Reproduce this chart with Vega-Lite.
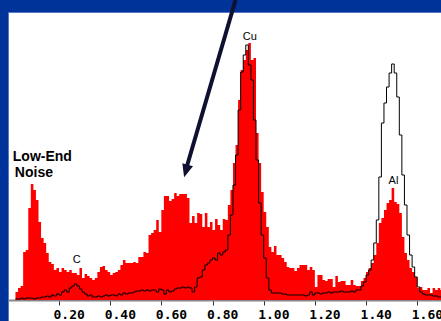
{
  "$schema": "https://vega.github.io/schema/vega-lite/v6.json",
  "width": 433,
  "height": 309,
  "autosize": {"type": "none"},
  "padding": {"left": 8, "top": 12, "right": 0, "bottom": 0},
  "background": "#003399",
  "config": {"view": {"fill": "#ffffff", "stroke": "#5577cc", "strokeWidth": 1}},
  "datasets": {
    "spec": [
      {"e":0.03,"r":8,"k":1},{"e":0.04,"r":12,"k":1},{"e":0.05,"r":14,"k":2},{"e":0.06,"r":48,"k":1},
      {"e":0.07,"r":50,"k":2},{"e":0.08,"r":92,"k":2},{"e":0.09,"r":116,"k":2},{"e":0.10,"r":110,"k":1},
      {"e":0.11,"r":100,"k":2},{"e":0.12,"r":78,"k":2},{"e":0.13,"r":62,"k":3},{"e":0.14,"r":57,"k":3},
      {"e":0.15,"r":47,"k":4},{"e":0.16,"r":38,"k":3},{"e":0.17,"r":36,"k":5},{"e":0.18,"r":30,"k":4},
      {"e":0.19,"r":32,"k":6},{"e":0.20,"r":28,"k":5},{"e":0.21,"r":32,"k":8},{"e":0.22,"r":30,"k":10},
      {"e":0.23,"r":28,"k":8},{"e":0.24,"r":30,"k":12},{"e":0.25,"r":27,"k":14},{"e":0.26,"r":27,"k":16},
      {"e":0.27,"r":25,"k":14},{"e":0.28,"r":32,"k":11},{"e":0.29,"r":22,"k":8},{"e":0.30,"r":26,"k":6},
      {"e":0.31,"r":24,"k":4},{"e":0.32,"r":22,"k":5},{"e":0.33,"r":20,"k":3},{"e":0.34,"r":22,"k":3},
      {"e":0.35,"r":28,"k":4},{"e":0.36,"r":33,"k":3},{"e":0.37,"r":34,"k":4},{"e":0.38,"r":30,"k":5},
      {"e":0.39,"r":28,"k":4},{"e":0.40,"r":25,"k":5},{"e":0.41,"r":27,"k":5},{"e":0.42,"r":28,"k":4},
      {"e":0.43,"r":30,"k":6},{"e":0.44,"r":35,"k":5},{"e":0.45,"r":40,"k":7},{"e":0.46,"r":37,"k":6},
      {"e":0.47,"r":37,"k":7},{"e":0.48,"r":37,"k":7},{"e":0.49,"r":38,"k":8},{"e":0.50,"r":37,"k":9},
      {"e":0.51,"r":43,"k":9},{"e":0.52,"r":43,"k":10},{"e":0.53,"r":48,"k":9},{"e":0.54,"r":47,"k":10},
      {"e":0.55,"r":65,"k":9},{"e":0.56,"r":67,"k":10},{"e":0.57,"r":70,"k":10},{"e":0.58,"r":80,"k":8},
      {"e":0.59,"r":68,"k":11},{"e":0.60,"r":90,"k":10},{"e":0.61,"r":104,"k":6},{"e":0.62,"r":104,"k":10},
      {"e":0.63,"r":99,"k":8},{"e":0.64,"r":101,"k":9},{"e":0.65,"r":107,"k":11},{"e":0.66,"r":104,"k":12},
      {"e":0.67,"r":106,"k":12},{"e":0.68,"r":106,"k":13},{"e":0.69,"r":106,"k":12},{"e":0.70,"r":102,"k":13},
      {"e":0.71,"r":77,"k":12},{"e":0.72,"r":84,"k":8},{"e":0.73,"r":77,"k":13},{"e":0.74,"r":87,"k":22},
      {"e":0.75,"r":86,"k":23},{"e":0.76,"r":73,"k":30},{"e":0.77,"r":87,"k":35},{"e":0.78,"r":73,"k":37},
      {"e":0.79,"r":78,"k":40},{"e":0.80,"r":70,"k":42},{"e":0.81,"r":81,"k":40},{"e":0.82,"r":75,"k":47},
      {"e":0.83,"r":70,"k":45},{"e":0.84,"r":81,"k":48},{"e":0.85,"r":80,"k":50},{"e":0.86,"r":95,"k":65},
      {"e":0.87,"r":110,"k":85},{"e":0.88,"r":137,"k":115},{"e":0.89,"r":155,"k":145},{"e":0.90,"r":200,"k":190},
      {"e":0.91,"r":230,"k":228},{"e":0.92,"r":240,"k":245},{"e":0.93,"r":250,"k":255},{"e":0.94,"r":257,"k":235},
      {"e":0.95,"r":240,"k":220},{"e":0.96,"r":242,"k":180},{"e":0.97,"r":167,"k":140},{"e":0.98,"r":137,"k":97},
      {"e":0.99,"r":108,"k":65},{"e":1.00,"r":88,"k":42},{"e":1.01,"r":73,"k":22},{"e":1.02,"r":53,"k":10},
      {"e":1.03,"r":48,"k":7},{"e":1.04,"r":54,"k":7},{"e":1.05,"r":45,"k":7},{"e":1.06,"r":45,"k":7},
      {"e":1.07,"r":42,"k":6},{"e":1.08,"r":38,"k":6},{"e":1.09,"r":33,"k":5},{"e":1.10,"r":32,"k":5},
      {"e":1.11,"r":32,"k":5},{"e":1.12,"r":29,"k":5},{"e":1.13,"r":32,"k":5},{"e":1.14,"r":35,"k":5},
      {"e":1.15,"r":35,"k":5},{"e":1.16,"r":35,"k":4},{"e":1.17,"r":30,"k":5},{"e":1.18,"r":33,"k":8},
      {"e":1.19,"r":30,"k":5},{"e":1.20,"r":13,"k":7},{"e":1.21,"r":25,"k":7},{"e":1.22,"r":25,"k":6},
      {"e":1.23,"r":20,"k":7},{"e":1.24,"r":19,"k":7},{"e":1.25,"r":21,"k":8},{"e":1.26,"r":21,"k":7},
      {"e":1.27,"r":13,"k":8},{"e":1.28,"r":24,"k":8},{"e":1.29,"r":18,"k":8},{"e":1.30,"r":19,"k":9},
      {"e":1.31,"r":19,"k":8},{"e":1.32,"r":15,"k":8},{"e":1.33,"r":15,"k":8},{"e":1.34,"r":20,"k":9},
      {"e":1.35,"r":15,"k":8},{"e":1.36,"r":14,"k":10},{"e":1.37,"r":14,"k":10},{"e":1.38,"r":19,"k":14},
      {"e":1.39,"r":22,"k":18},{"e":1.40,"r":28,"k":25},{"e":1.41,"r":32,"k":30},{"e":1.42,"r":37,"k":40},
      {"e":1.43,"r":45,"k":57},{"e":1.44,"r":57,"k":80},{"e":1.45,"r":77,"k":123},{"e":1.46,"r":82,"k":177},
      {"e":1.47,"r":90,"k":197},{"e":1.48,"r":97,"k":213},{"e":1.49,"r":100,"k":227},{"e":1.50,"r":112,"k":236},
      {"e":1.51,"r":98,"k":227},{"e":1.52,"r":96,"k":203},{"e":1.53,"r":87,"k":165},{"e":1.54,"r":63,"k":125},
      {"e":1.55,"r":47,"k":95},{"e":1.56,"r":40,"k":65},{"e":1.57,"r":32,"k":45},{"e":1.58,"r":28,"k":33},
      {"e":1.59,"r":23,"k":23},{"e":1.60,"r":12,"k":13},{"e":1.61,"r":13,"k":8},{"e":1.62,"r":10,"k":6},
      {"e":1.63,"r":10,"k":5},{"e":1.64,"r":12,"k":5},{"e":1.65,"r":7,"k":5},{"e":1.66,"r":12,"k":4},
      {"e":1.67,"r":10,"k":4},{"e":1.68,"r":12,"k":3},{"e":1.69,"r":10,"k":3},{"e":1.70,"r":10,"k":3}
    ],
    "big": [
      {"e":0.0196,"h":139,"t":"Low-End"},
      {"e":0.0275,"h":123,"t":"Noise"}
    ],
    "small": [
      {"e":0.269,"h":37,"t":"C"},
      {"e":0.946,"h":260,"t":"Cu"},
      {"e":1.507,"h":116,"t":"Al"}
    ],
    "shaft": [
      {"e":0.890,"h":300,"e2":0.698,"h2":132}
    ],
    "head": [
      {"e":0.696,"h":129}
    ]
  },
  "encoding": {
    "x": {
      "field": "e", "type": "quantitative",
      "scale": {"domain": [0.0008, 1.6929], "nice": false, "zero": false},
      "axis": {
        "offset": -21, "values": [0.2,0.4,0.6,0.8,1.0,1.2,1.4,1.6], "format": ".2f",
        "labelFont": "DejaVu Sans Mono", "labelFontSize": 13, "labelFontWeight": "bold", "labelColor": "#000000",
        "labelAlign": "left", "labelOffset": -6, "labelPadding": 3, "labelFlush": false, "labelOverlap": false, "labelBound": false,
        "tickSize": 5, "tickColor": "#333333", "domainColor": "#888888", "domainWidth": 2, "grid": false, "title": null
      }
    },
    "y": {
      "field": "h", "type": "quantitative",
      "scale": {"domain": [-21, 288], "nice": false, "zero": false},
      "axis": null
    }
  },
  "layer": [
    {
      "data": {"name": "spec"},
      "mark": {"type": "area", "color": "#ff0000", "interpolate": "step-after"},
      "encoding": {
        "y": {"field": "r", "type": "quantitative", "scale": {"domain": [-21, 288], "nice": false, "zero": false}, "axis": null},
        "y2": {"datum": 0}
      }
    },
    {
      "data": {"name": "spec"},
      "mark": {"type": "line", "color": "#000000", "strokeWidth": 1, "interpolate": "step-after"},
      "encoding": {
        "y": {"field": "k", "type": "quantitative", "scale": {"domain": [-21, 288], "nice": false, "zero": false}, "axis": null}
      }
    },
    {
      "data": {"name": "big"},
      "mark": {"type": "text", "align": "left", "baseline": "alphabetic", "font": "Liberation Sans", "fontSize": 14, "fontWeight": "bold", "color": "#000000"},
      "encoding": {"text": {"field": "t"}}
    },
    {
      "data": {"name": "small"},
      "mark": {"type": "text", "align": "center", "baseline": "alphabetic", "font": "Liberation Sans", "fontSize": 11, "color": "#000000"},
      "encoding": {"text": {"field": "t"}}
    },
    {
      "data": {"name": "shaft"},
      "mark": {"type": "rule", "color": "#101030", "strokeWidth": 4},
      "encoding": {
        "x2": {"field": "e2"},
        "y2": {"field": "h2"}
      }
    },
    {
      "data": {"name": "head"},
      "mark": {"type": "point", "shape": "M-0.85,-1L0.85,-1L0,1Z", "filled": true, "color": "#101030", "opacity": 1, "size": 169, "angle": 16, "strokeWidth": 0},
      "encoding": {}
    }
  ]
}
